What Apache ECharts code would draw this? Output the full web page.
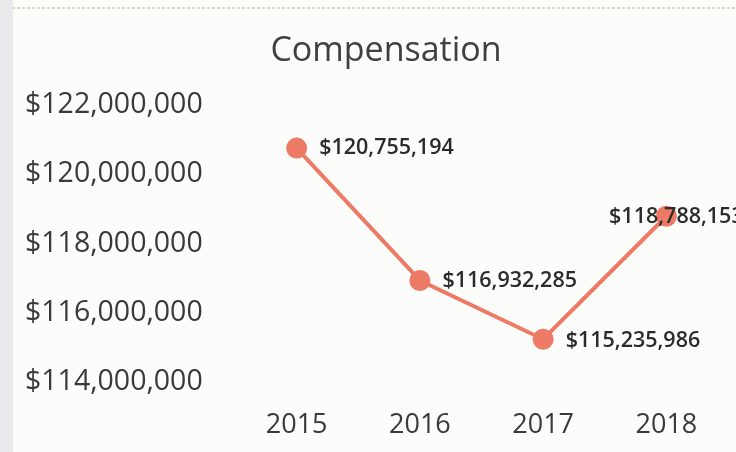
<!DOCTYPE html>
<html>
<head>
<meta charset="utf-8">
<script src="https://cdn.jsdelivr.net/npm/echarts@6/dist/echarts.min.js"></script>
<style>
  html, body { margin: 0; padding: 0; background: #fcfcfb; }
  #chart { width: 736px; height: 452px; }
</style>
</head>
<body>
<div id="chart"></div>
<script>
// 数据
const years = ["2015", "2016", "2017", "2018"];
const compensation = [120755194, 116932285, 115235986, 118788153];
const yTicks = [114000000, 116000000, 118000000, 120000000, 122000000];

const fmt = (v) => "$" + v.toLocaleString("en-US");

const chart = echarts.init(document.getElementById("chart"));

const option = {
  backgroundColor: "#fcfcfb",
  textStyle: { fontFamily: "Open Sans" },
  title: {
    text: "Compensation",
    left: 381,
    textAlign: "center",
    top: 29,
    textStyle: {
      fontFamily: "Open Sans",
      fontSize: 34,
      fontWeight: "normal",
      color: "#404040",
    },
  },
  // 扫描件的边框效果
  graphic: [
    {
      type: "rect",
      shape: { x: 0, y: 0, width: 13, height: 452 },
      style: { fill: "#ebe9ec" },
      silent: true,
    },
    {
      type: "line",
      shape: { x1: 12, y1: 8, x2: 736, y2: 8 },
      style: { stroke: "#c9d6a8", lineWidth: 1.5, lineDash: [3, 2] },
      silent: true,
    },
  ],
  grid: {
    left: 235,
    right: 8,
    top: 105,
    bottom: 70,
  },
  xAxis: {
    type: "category",
    data: years,
    boundaryGap: true,
    axisLine: { show: false },
    axisTick: { show: false },
    axisLabel: {
      color: "#3a3a3a",
      fontSize: 27,
      margin: 30,
    },
  },
  yAxis: {
    type: "value",
    min: yTicks[0],
    max: yTicks[yTicks.length - 1],
    interval: 2000000,
    splitLine: { show: false },
    axisLine: { show: false },
    axisTick: { show: false },
    axisLabel: {
      color: "#3a3a3a",
      fontSize: 28.5,
      align: "left",
      margin: 210,
      formatter: (v) => fmt(v),
    },
  },
  series: [
    {
      type: "line",
      data: compensation.map((v, i) => ({
        value: v,
        label:
          i === 3
            ? { position: "inside", offset: [10, 1] }
            : { position: "right", distance: 12, offset: [0, i === 2 ? 2 : 0] },
      })),
      symbol: "circle",
      symbolSize: 21,
      lineStyle: { color: "#ec7a64", width: 4 },
      itemStyle: { color: "#ec7a64" },
      z: 2,
      label: {
        show: true,
        formatter: (p) => fmt(p.value),
        fontSize: 21.5,
        fontWeight: 600,
        color: "#2b2b2b",
      },
    },
  ],
};

chart.setOption(option);
</script>
</body>
</html>
